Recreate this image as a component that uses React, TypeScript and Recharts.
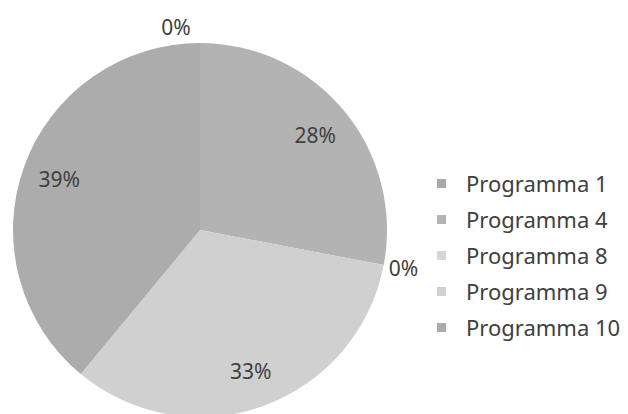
import React from "react";
import { PieChart, Pie, Cell, Legend } from "recharts";

const categories = ["Programma 1", "Programma 4", "Programma 8", "Programma 9", "Programma 10"];
const shares = [0, 28, 0, 33, 39];
const colors = ["#a9a9a9", "#b3b3b3", "#d6d6d6", "#d0d0d0", "#acacac"];

const data = categories.map((name, i) => ({ name, value: shares[i] }));

const FONT = "'Noto Sans', 'Open Sans', sans-serif";
const RAD = Math.PI / 180;

const renderLabel = (props: any) => {
  const { cx, cy, midAngle, outerRadius, value } = props;
  const r = value === 0 ? outerRadius + 16 : outerRadius * 0.8;
  let x = cx + r * Math.cos(-midAngle * RAD);
  const y = cy + r * Math.sin(-midAngle * RAD);
  if (value === 0 && Math.abs(midAngle - 90) < 5) x -= 24;
  if (value === 0 && Math.abs(midAngle - 90) >= 5) x += 4;
  return (
    <text
      x={x}
      y={y}
      textAnchor="middle"
      dominantBaseline="central"
      fill="#404040"
      fontSize={21}
      fontFamily={FONT}
    >
      {`${value}%`}
    </text>
  );
};

const renderLegend = () => (
  <div style={{ fontFamily: FONT }}>
    {categories.map((name, i) => (
      <div key={name} style={{ display: "flex", alignItems: "center", height: 36 }}>
        <span
          style={{
            display: "inline-block",
            width: 9,
            height: 9,
            background: colors[i],
            marginRight: 20,
          }}
        />
        <span style={{ fontSize: 22, color: "#404040", whiteSpace: "nowrap" }}>{name}</span>
      </div>
    ))}
  </div>
);

export default function App() {
  return (
    <PieChart
      width={620}
      height={406}
      margin={{ top: 0, right: 0, bottom: 0, left: 0 }}
      style={{ fontFamily: FONT }}
    >
      <Pie
        data={data}
        dataKey="value"
        nameKey="name"
        cx={192}
        cy={222}
        outerRadius={187}
        startAngle={90}
        endAngle={-270}
        stroke="none"
        label={renderLabel}
        labelLine={false}
        isAnimationActive={false}
      >
        {data.map((d, i) => (
          <Cell key={d.name} fill={colors[i]} />
        ))}
      </Pie>
      <Legend
        layout="vertical"
        content={renderLegend}
        wrapperStyle={{ left: 429, top: 157, width: 190 }}
      />
    </PieChart>
  );
}
